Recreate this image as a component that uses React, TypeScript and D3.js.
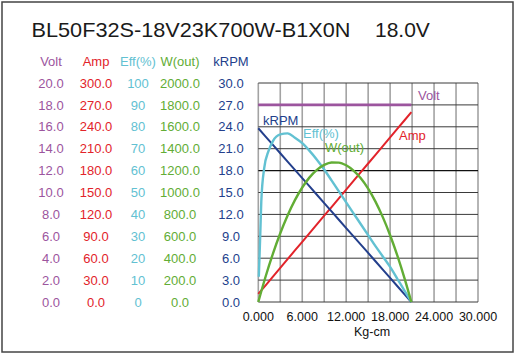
import React from "react";
import * as d3 from "d3";

const TITLE = "BL50F32S-18V23K700W-B1X0N";
const TITLE_V = "18.0V";

const voltTicks = ["0.0", "2.0", "4.0", "6.0", "8.0", "10.0", "12.0", "14.0", "16.0", "18.0", "20.0"];
const ampTicks = ["0.0", "30.0", "60.0", "90.0", "120.0", "150.0", "180.0", "210.0", "240.0", "270.0", "300.0"];
const effTicks = ["0", "10", "20", "30", "40", "50", "60", "70", "80", "90", "100"];
const woutTicks = ["0.0", "200.0", "400.0", "600.0", "800.0", "1000.0", "1200.0", "1400.0", "1600.0", "1800.0", "2000.0"];
const krpmTicks = ["0.0", "3.0", "6.0", "9.0", "12.0", "15.0", "18.0", "21.0", "24.0", "27.0", "30.0"];
const xTicks = [0, 6, 12, 18, 24, 30];
const xTickLabels = ["0.000", "6.000", "12.000", "18.000", "24.000", "30.000"];

// torque (kg-cm) samples
const torque = [0, 1, 2, 3, 4, 5, 6, 7, 8, 9, 10, 11, 12, 13, 14, 15, 16, 17, 18, 19, 20, 20.9];
const krpm = [23.8, 22.66, 21.52, 20.38, 19.24, 18.11, 16.97, 15.83, 14.69, 13.55, 12.41, 11.27, 10.13, 8.99, 7.86, 6.72, 5.58, 4.44, 3.3, 2.16, 1.02, 0];
const amp = [11.0, 22.9, 34.8, 46.7, 58.7, 70.6, 82.5, 94.4, 106.3, 118.2, 130.1, 142.1, 154.0, 165.9, 177.8, 189.7, 201.6, 213.5, 225.4, 237.4, 249.3, 260.0];
const wout = [0, 232.7, 442.0, 627.9, 790.4, 929.9, 1045.7, 1138.0, 1206.9, 1252.4, 1274.5, 1273.2, 1248.4, 1200.3, 1130.1, 1035.2, 916.9, 775.2, 610.0, 421.5, 209.5, 0];
const effTorque = [0.07, 0.27, 0.41, 0.8, 1.4, 2, 3, 4, 5, 6, 7, 8, 9, 10, 11, 12, 13, 14, 15, 16, 17, 18, 19, 20, 20.9];
const eff = [11.5, 31, 46, 61, 69, 73.5, 76.5, 77, 75, 72.5, 69, 65, 60.5, 55.5, 50.5, 45.5, 40.5, 35.5, 30.5, 25.5, 20.8, 16, 10.5, 5, 0];
const voltTorque = [0, 20.9];
const volt = [18.0, 18.0];

const C_VOLT = "#9c559e";
const C_AMP = "#e2232a";
const C_EFF = "#62c1d2";
const C_W = "#62ad35";
const C_RPM = "#233f8c";
const FONT = "'Liberation Sans', Arial, sans-serif";

export default function App() {
  const L = 258.3, R = 478, T = 83, B = 302;
  const x = d3.scaleLinear().domain([0, 30]).range([L, R]);
  const yR = d3.scaleLinear().domain([0, 30]).range([B, T]);
  const yV = d3.scaleLinear().domain([0, 20]).range([B, T]);
  const yA = d3.scaleLinear().domain([0, 300]).range([B, T]);
  const yE = d3.scaleLinear().domain([0, 100]).range([B, T]);
  const yW = d3.scaleLinear().domain([0, 2000]).range([B, T]);

  const mk = (xs: number[], ys: number[], ys2: (v: number) => number, curve: any) =>
    d3.line<number>().x((_, i) => x(xs[i])).y((v) => ys2(v)).curve(curve)(ys) || "";

  const gridY = d3.range(0, 11).map((i) => i * 3);
  const gridX = d3.range(0, 11).map((i) => i * 3);

  const cols = [
    { cx: 51, label: "Volt", ticks: voltTicks, color: C_VOLT },
    { cx: 96, label: "Amp", ticks: ampTicks, color: C_AMP },
    { cx: 138, label: "Eff(%)", ticks: effTicks, color: C_EFF },
    { cx: 180, label: "W(out)", ticks: woutTicks, color: C_W },
    { cx: 231, label: "kRPM", ticks: krpmTicks, color: C_RPM },
  ];

  return (
    <svg width={516} height={355} style={{ position: "absolute", left: 0, top: 0, background: "#fff" }} fontFamily={FONT}>
      <rect x={2} y={2} width={511} height={350} fill="#fff" stroke="#444" strokeWidth={1.5} />
      <text x={31.5} y={36.7} fontSize={21} fill="#1a1a1a" textLength={319} lengthAdjust="spacingAndGlyphs">{TITLE}</text>
      <text x={375} y={36.7} fontSize={21} fill="#1a1a1a">{TITLE_V}</text>

      {cols.map((c) => (
        <g key={c.label} fill={c.color} fontSize={13} textAnchor="middle">
          <text x={c.cx} y={66}>{c.label}</text>
          {c.ticks.map((t, i) => (
            <text key={t} x={c.cx} y={yR(i * 3) + 4.6}>{t}</text>
          ))}
        </g>
      ))}

      {/* grid */}
      {gridX.map((v) => (
        <line key={"gx" + v} x1={x(v)} x2={x(v)} y1={T} y2={B} stroke="#a3a3a3" strokeWidth={1.6} />
      ))}
      {gridY.map((v) => (
        <line key={"gy" + v} x1={L} x2={R} y1={yR(v)} y2={yR(v)} stroke={v === 18 ? "#111" : "#3a3a3a"} strokeWidth={v === 18 ? 1.4 : 1} />
      ))}

      {xTicks.map((v, i) => (
        <text key={"xt" + v} x={x(v)} y={321} fontSize={12.5} textAnchor="middle" fill="#111">{xTickLabels[i]}</text>
      ))}
      <text x={372} y={336} fontSize={12.5} textAnchor="middle" fill="#111">Kg-cm</text>

      {/* curves */}
      <path d={mk(voltTorque, volt, yV, d3.curveLinear)} fill="none" stroke={C_VOLT} strokeWidth={2.6} />
      <path d={mk(torque, amp, yA, d3.curveLinear)} fill="none" stroke={C_AMP} strokeWidth={2} />
      <path d={mk(torque, krpm, yR, d3.curveLinear)} fill="none" stroke={C_RPM} strokeWidth={2} />
      <path d={mk(effTorque, eff, yE, d3.curveMonotoneX)} fill="none" stroke={C_EFF} strokeWidth={2.4} />
      <path d={mk(torque, wout, yW, d3.curveMonotoneX)} fill="none" stroke={C_W} strokeWidth={2.4} />

      <text x={418} y={100} fontSize={13} fill={C_VOLT}>Volt</text>
      <text x={263} y={125} fontSize={13} fill={C_RPM}>kRPM</text>
      <text x={303} y={138} fontSize={13} fill={C_EFF}>Eff(%)</text>
      <text x={325} y={152} fontSize={13} fill={C_W}>W(out)</text>
      <text x={399} y={140} fontSize={13} fill={C_AMP}>Amp</text>
    </svg>
  );
}
